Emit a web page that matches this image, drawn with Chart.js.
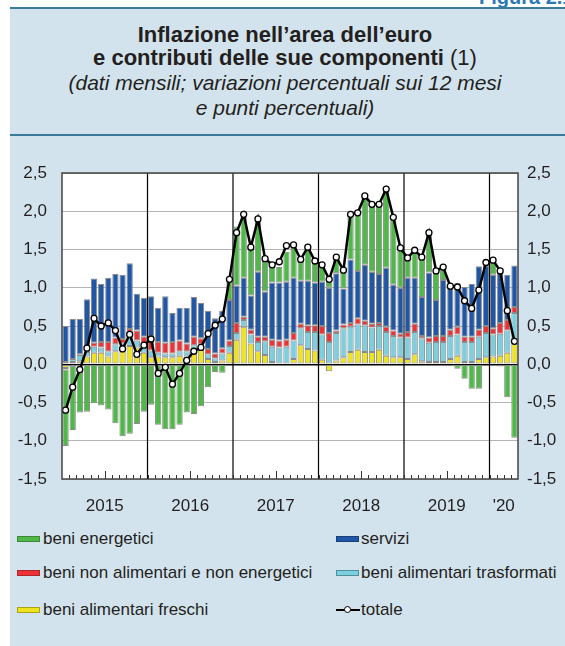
<!DOCTYPE html>
<html>
<head>
<meta charset="utf-8">
<script src="https://cdn.jsdelivr.net/npm/chart.js@4.4.1/dist/chart.umd.min.js"></script>
<style>
html,body{margin:0;padding:0;background:#ffffff;}
body{width:565px;height:646px;position:relative;overflow:hidden;font-family:"Liberation Sans",Arial,Helvetica,sans-serif;color:#231f20;}
#panel{position:absolute;left:10px;top:8px;width:555px;height:638px;background:#d3e3ed;}
.rule{position:absolute;left:10px;width:555px;height:2px;background:#3b7a99;}
#fig{position:absolute;left:479px;top:-13px;font-weight:bold;font-size:20px;line-height:20px;color:#2a79b6;white-space:nowrap;}
.hl{position:absolute;left:10px;width:550px;text-align:center;white-space:nowrap;}
.t{font-weight:bold;font-size:22px;line-height:24px;}
.t span{font-weight:normal;}
.s{font-style:italic;font-size:21px;line-height:24px;}
#chartWrap{position:absolute;left:0;top:140px;width:565px;height:380px;}
.sw{position:absolute;width:21px;height:4px;border:1px solid #777;}
.lt{position:absolute;font-size:17px;line-height:20px;white-space:nowrap;}
.totline{position:absolute;left:336px;width:24px;height:2px;background:#000;}
.totdot{position:absolute;width:5px;height:5px;border:1px solid #000;border-radius:50%;background:#fff;}
</style>
</head>
<body>
<div id="panel"></div>
<div id="fig">Figura 2.1</div>
<div class="rule" style="top:7px"></div>
<div class="hl t" style="top:23px">Inflazione nell’area dell’euro</div>
<div class="hl t" style="top:46px">e contributi delle sue componenti <span>(1)</span></div>
<div class="hl s" style="top:71px">(dati mensili; variazioni percentuali sui 12 mesi</div>
<div class="hl s" style="top:96px">e punti percentuali)</div>
<div class="rule" style="top:134px"></div>
<div id="chartWrap"><canvas id="c" width="565" height="380"></canvas></div>

<div class="sw" style="left:17px;top:536px;background:#4fb848;border-color:#3b8a36"></div>
<div class="lt" style="left:43px;top:529px">beni energetici</div>
<div class="sw" style="left:336px;top:536px;background:#1f56a5;border-color:#173f7a"></div>
<div class="lt" style="left:361px;top:529px">servizi</div>
<div class="sw" style="left:17px;top:570px;background:#ec3237;border-color:#b02528"></div>
<div class="lt" style="left:43px;top:563px">beni non alimentari e non energetici</div>
<div class="sw" style="left:336px;top:570px;background:#7ccfdf;border-color:#4f8f9c"></div>
<div class="lt" style="left:361px;top:563px">beni alimentari trasformati</div>
<div class="sw" style="left:17px;top:607px;background:#eee31f;border-color:#a9a215"></div>
<div class="lt" style="left:43px;top:600px">beni alimentari freschi</div>
<div class="totline" style="top:609px"></div>
<div class="totdot" style="left:344px;top:606px"></div>
<div class="lt" style="left:361px;top:600px">totale</div>

<script>
// ---- DATA ----
const categories = [
 '2015-01','2015-02','2015-03','2015-04','2015-05','2015-06','2015-07','2015-08','2015-09','2015-10','2015-11','2015-12',
 '2016-01','2016-02','2016-03','2016-04','2016-05','2016-06','2016-07','2016-08','2016-09','2016-10','2016-11','2016-12',
 '2017-01','2017-02','2017-03','2017-04','2017-05','2017-06','2017-07','2017-08','2017-09','2017-10','2017-11','2017-12',
 '2018-01','2018-02','2018-03','2018-04','2018-05','2018-06','2018-07','2018-08','2018-09','2018-10','2018-11','2018-12',
 '2019-01','2019-02','2019-03','2019-04','2019-05','2019-06','2019-07','2019-08','2019-09','2019-10','2019-11','2019-12',
 '2020-01','2020-02','2020-03','2020-04'
];
// year tick labels: category index -> label
const yearTickLabels = {5:'2015', 17:'2016', 29:'2017', 41:'2018', 53:'2019', 61:"'20"};

const freschi = [
 -0.05,0.03,0.04,0.10,0.15,0.15,0.10,0.17,0.17,0.24,0.22,0.15,
 0.09,0.10,0.09,0.09,0.11,0.10,0.19,0.20,0.07,0.03,0.05,0.15,
 0.32,0.49,0.27,0.17,0.12,0.03,-0.01,-0.01,0.07,0.25,0.20,0.18,
 0.06,-0.09,0.05,0.09,0.16,0.19,0.16,0.16,0.19,0.11,0.09,0.09,
 0.07,0.13,0.04,0.03,0.03,0.03,0.07,0.11,0.03,0.03,0.07,0.09,
 0.10,0.11,0.15,0.27
];
const trasformati = [
 0.03,0.04,0.08,0.06,0.08,0.07,0.07,0.09,0.10,0.17,0.09,0.10,
 0.09,0.05,0.05,0.05,0.06,0.07,0.06,0.06,0.06,0.05,0.09,0.09,
 0.09,0.09,0.12,0.12,0.18,0.20,0.22,0.23,0.24,0.22,0.22,0.24,
 0.33,0.29,0.36,0.38,0.33,0.33,0.35,0.32,0.31,0.31,0.28,0.26,
 0.28,0.29,0.30,0.25,0.26,0.26,0.30,0.28,0.26,0.26,0.29,0.32,
 0.29,0.29,0.29,0.40
];
const nonAlimentari = [
 -0.02,-0.02,0.01,0.01,0.05,0.07,0.12,0.09,0.06,0.05,0.13,0.11,
 0.19,0.14,0.14,0.15,0.14,0.10,0.11,0.08,0.07,0.06,0.07,0.07,
 0.13,0.04,0.06,0.07,0.06,0.09,0.09,0.09,0.10,0.06,0.09,0.09,
 0.11,0.12,0.03,0.05,0.05,0.08,0.06,0.05,0.04,0.07,0.07,0.05,
 0.07,0.11,0.03,0.07,0.08,0.08,0.08,0.10,0.07,0.07,0.09,0.09,
 0.08,0.14,0.14,0.08
];
const servizi = [
 0.47,0.52,0.46,0.68,0.84,0.76,0.84,0.83,0.84,0.86,0.48,0.51,
 0.52,0.45,0.61,0.38,0.43,0.47,0.52,0.46,0.50,0.46,0.49,0.53,
 0.49,0.51,0.45,0.85,0.59,0.75,0.76,0.76,0.72,0.56,0.58,0.56,
 0.58,0.59,0.75,0.47,0.83,0.62,0.73,0.68,0.64,0.77,0.60,0.60,
 0.71,0.60,0.51,0.85,0.47,0.73,0.55,0.57,0.65,0.69,0.83,0.79,
 0.70,0.70,0.59,0.54
];
const energetici = [
 -1.00,-0.84,-0.63,-0.62,-0.51,-0.54,-0.59,-0.77,-0.94,-0.91,-0.78,-0.62,
 -0.53,-0.79,-0.85,-0.85,-0.79,-0.63,-0.65,-0.55,-0.30,-0.10,-0.11,0.26,
 0.77,0.80,0.62,0.68,0.41,0.21,0.20,0.39,0.40,0.29,0.43,0.26,
 0.22,0.12,0.22,0.26,0.60,0.76,0.90,0.89,0.92,1.03,0.88,0.54,
 0.27,0.37,0.52,0.52,0.39,0.15,0.02,-0.06,-0.19,-0.32,-0.32,0.01,
 0.19,-0.03,-0.43,-0.96
];
const totale = [
 -0.60,-0.30,-0.07,0.21,0.60,0.50,0.54,0.44,0.20,0.39,0.13,0.25,
 0.33,-0.12,-0.04,-0.26,-0.12,0.05,0.17,0.22,0.40,0.51,0.59,1.11,
 1.72,1.96,1.53,1.90,1.38,1.30,1.34,1.55,1.56,1.37,1.53,1.35,
 1.30,1.11,1.40,1.23,1.96,1.98,2.20,2.09,2.09,2.29,1.92,1.52,
 1.39,1.49,1.40,1.72,1.22,1.27,1.02,1.01,0.83,0.73,0.97,1.33,
 1.36,1.22,0.70,0.30
];

// ---- STYLE ----
const FONT = "'Liberation Sans', Arial, Helvetica, sans-serif";
Chart.defaults.font.family = FONT;
Chart.defaults.color = '#231f20';
const fmt = v => Number(v).toFixed(1).replace('.', ',');

function barSet(label, data, color) {
  return {
    label, data, backgroundColor: color, borderColor: '#8a8a8a', borderWidth: 1,
    borderSkipped: false, stack: 'bars', order: 1,
    barPercentage: 0.88, categoryPercentage: 1.0
  };
}

const framePlugin = {
  id: 'frame',
  beforeDraw(chart) {
    const {ctx, chartArea: a} = chart;
    ctx.save();
    ctx.fillStyle = '#ffffff';
    ctx.fillRect(a.left, a.top, a.right - a.left, a.bottom - a.top);
    ctx.restore();
  },
  beforeDatasetsDraw(chart) {
    const {ctx, chartArea: a, scales: {x}} = chart;
    const half = (x.getPixelForValue(1) - x.getPixelForValue(0)) / 2;
    ctx.save();
    ctx.strokeStyle = '#000';
    ctx.lineWidth = 1.2;
    categories.forEach((c, i) => {
      if (i > 0 && c.endsWith('-01')) {
        const px = x.getPixelForValue(i) - half;
        ctx.beginPath(); ctx.moveTo(px, a.top); ctx.lineTo(px, a.bottom); ctx.stroke();
      }
    });
    ctx.restore();
  },
  afterDatasetsDraw(chart) {
    const {ctx, chartArea: a, scales: {x}} = chart;
    const half = (x.getPixelForValue(1) - x.getPixelForValue(0)) / 2;
    ctx.save();
    ctx.strokeStyle = '#333';
    ctx.lineWidth = 1;
    categories.forEach((c, i) => {
      if (i === 0) return;
      const px = Math.round(x.getPixelForValue(i) - half) + 0.5;
      const len = c.endsWith('-07') ? 8 : 4;
      ctx.beginPath(); ctx.moveTo(px, a.bottom); ctx.lineTo(px, a.bottom - len); ctx.stroke();
    });
    ctx.strokeStyle = '#444';
    ctx.lineWidth = 1.5;
    ctx.strokeRect(a.left, a.top, a.right - a.left, a.bottom - a.top);
    ctx.restore();
  }
};

const axisFont = {size: 17, family: FONT};

new Chart(document.getElementById('c').getContext('2d'), {
  type: 'bar',
  data: {
    labels: categories,
    datasets: [
      {
        type: 'line', label: 'totale', data: totale, stack: 'line', order: 0,
        borderColor: '#000', borderWidth: 2.5, tension: 0,
        pointRadius: 3, pointBackgroundColor: '#fff', pointBorderColor: '#000', pointBorderWidth: 1.3
      },
      barSet('beni alimentari freschi', freschi, '#eee31f'),
      barSet('beni alimentari trasformati', trasformati, '#7ccfdf'),
      barSet('beni non alimentari e non energetici', nonAlimentari, '#ec3237'),
      barSet('servizi', servizi, '#1f56a5'),
      barSet('beni energetici', energetici, '#4fb848')
    ]
  },
  options: {
    responsive: false,
    animation: false,
    devicePixelRatio: 1,
    layout: {padding: {top: 33, left: 0, right: 0, bottom: 0}},
    plugins: {legend: {display: false}, tooltip: {enabled: false}, title: {display: false}},
    scales: {
      x: {
        stacked: true, offset: true,
        grid: {display: false}, border: {display: false},
        ticks: {
          autoSkip: false, maxRotation: 0, minRotation: 0, labelOffset: 3.56, padding: 9,
          font: axisFont, color: '#231f20',
          callback: (v, i) => yearTickLabels[i] || ''
        },
        afterFit: s => { s.height = 41; }
      },
      y: {
        stacked: true, position: 'left', min: -1.5, max: 2.5,
        ticks: {stepSize: 0.5, padding: 15, font: axisFont, color: '#231f20', callback: v => fmt(v)},
        grid: {
          drawTicks: false,
          color: c => (c.tick && c.tick.value === 0 ? '#000' : '#b4b4b4'),
          lineWidth: c => (c.tick && c.tick.value === 0 ? 1.4 : 1)
        },
        border: {display: false},
        afterFit: s => { s.width = 62; }
      },
      y2: {
        position: 'right', min: -1.5, max: 2.5,
        ticks: {stepSize: 0.5, padding: 9, font: axisFont, color: '#231f20', callback: v => fmt(v)},
        grid: {display: false, drawTicks: false},
        border: {display: false},
        afterFit: s => { s.width = 47; }
      }
    }
  },
  plugins: [framePlugin]
});
</script>
</body>
</html>
